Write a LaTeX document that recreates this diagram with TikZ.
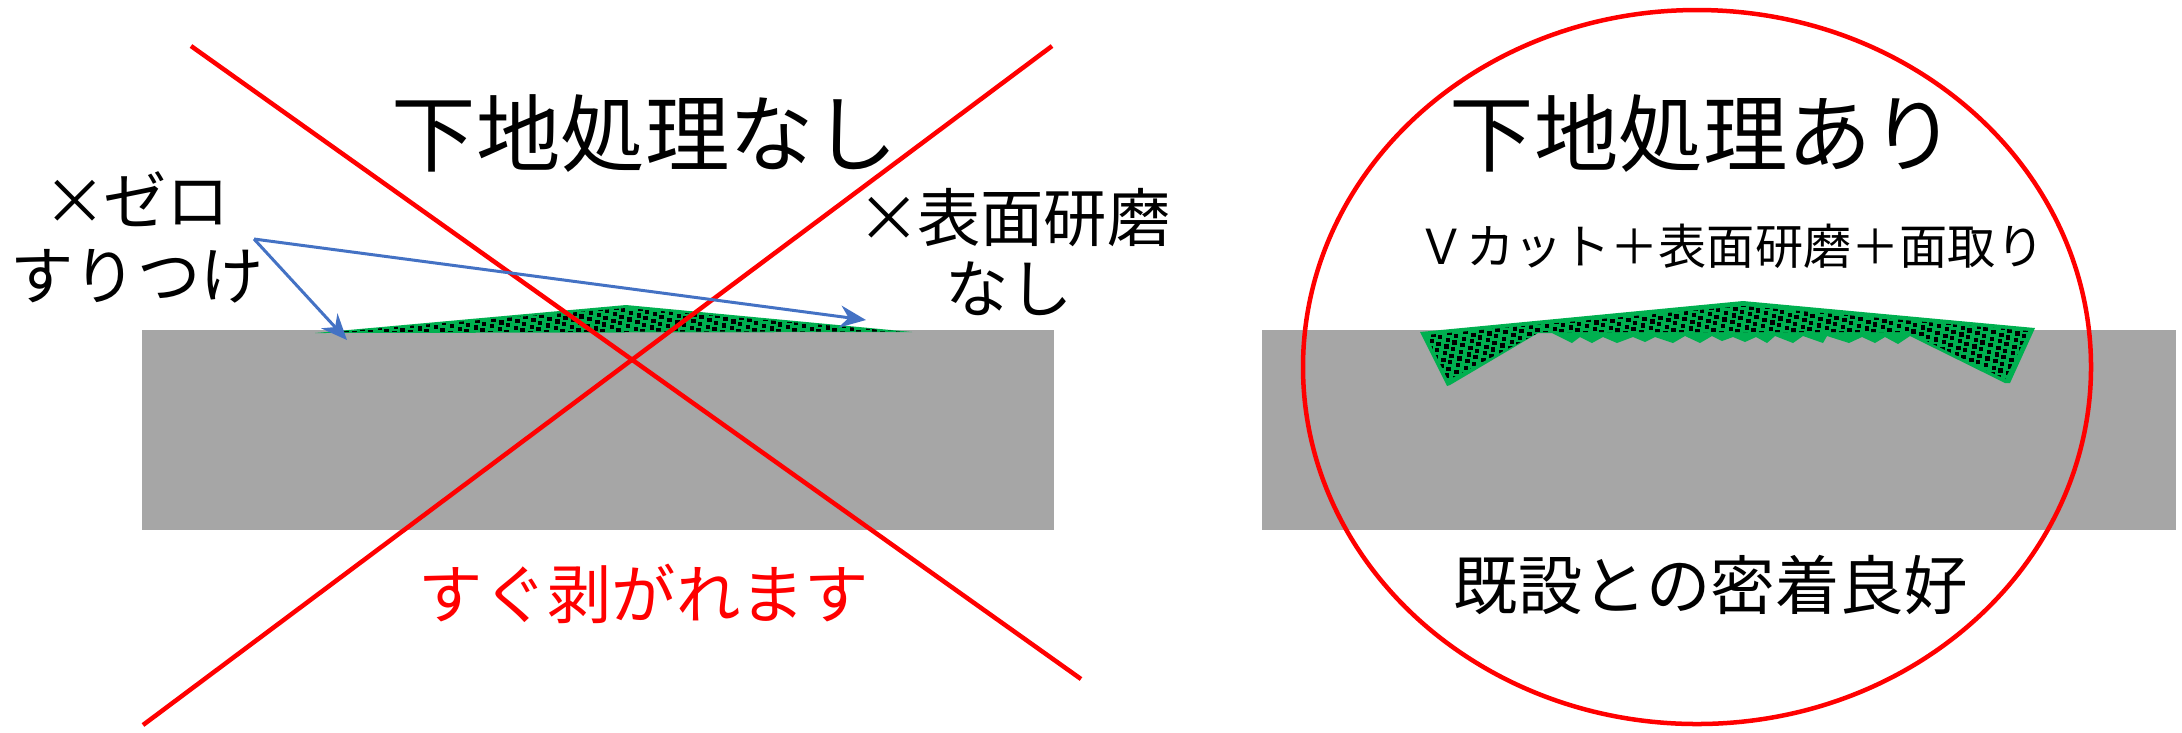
\documentclass[tikz,border=0pt]{standalone}
\usepackage{fontspec}
\setmainfont{Noto Sans CJK JP}
\usetikzlibrary{arrows.meta}
\definecolor{slab}{HTML}{A6A6A6}
\definecolor{patch}{HTML}{00B050}
\definecolor{leader}{HTML}{4472C4}
\tikzset{
  x=0.01cm, y=-0.01cm,
  slabrect/.style={fill=slab, draw=none},
  crossline/.style={draw=red, line width=0.045cm},
  leaderline/.style={draw=leader, line width=0.03cm, -{Stealth[length=0.26cm,width=0.22cm]}},
  label/.style={inner sep=0pt, anchor=center, align=center},
  titletext/.style={label, font=\fontsize{24}{28}\selectfont},
  notetext/.style={label, font=\fontsize{18}{28}\selectfont},
  smalltext/.style={label, font=\fontsize{13.7}{18}\selectfont},
  bigtext/.style={label, font=\fontsize{18.3}{22}\selectfont},
}
% Slanted lattice of small black squares over the current clip region:
% x start, last column, y start, last row
\newcommand{\specks}[4]{%
  \foreach \col in {0,...,#2}{%
    \pgfmathsetmacro{\phase}{mod(\col*2.7,6.6)}%
    \foreach \row in {0,...,#4}{%
      \pgfmathsetmacro{\xx}{#1+\col*8-\row*1.5}%
      \pgfmathsetmacro{\yy}{#3+\row*6.6+\phase}%
      \fill[black] (\xx-2.1,\yy-2.1) rectangle (\xx+2.1,\yy+2.1);
    }%
  }%
}
\begin{document}
\begin{tikzpicture}
\useasboundingbox (0,0) rectangle (2182,732);

% Left slab and thin repair layer
\node[slabrect, minimum width=9.12cm, minimum height=2cm, inner sep=0pt] (slabL) at (598,430) {};
\fill[patch] (315,333) -- (626,305) -- (912,332) -- cycle;
\begin{scope}
  \clip (335,332) -- (626,308) -- (900,331.5) -- cycle;
  \specks{330}{74}{296}{5}
\end{scope}

% Right slab and V-cut repair layer
\node[slabrect, minimum width=9.13cm, minimum height=2cm, inner sep=0pt] (slabR) at (1719,430) {};
\fill[patch] (1420,332) -- (1743,301) -- (2035,328) -- (2010,383) -- (2005,383) -- (1910,336)
  -- (1898,344) -- (1885,337) -- (1875,343) -- (1862,337) -- (1849,343) -- (1827,336) -- (1823,343)
  -- (1803,336) -- (1793,343) -- (1775,336) -- (1767,343) -- (1756,337) -- (1745,342) -- (1733,337)
  -- (1722,341) -- (1712,336) -- (1700,343) -- (1685,336) -- (1673,343) -- (1655,337) -- (1645,342)
  -- (1633,337) -- (1617,343) -- (1603,337) -- (1592,343) -- (1580,337) -- (1572,343) -- (1552,333)
  -- (1538,333) -- (1450,385) -- (1447,386) -- cycle;
\begin{scope}
  \clip (1426,335) -- (1743,306) -- (2029,331) -- (2005,379) -- (1908,332) -- (1540,332) -- (1448,380) -- cycle;
  \specks{1425}{78}{296}{14}
\end{scope}

% Crossing-out lines
\coordinate (crossA1) at (191,46);
\coordinate (crossA2) at (1081,679);
\coordinate (crossB1) at (1052,46);
\coordinate (crossB2) at (143,725);
\draw[crossline] (crossA1) -- (crossA2);
\draw[crossline] (crossB1) -- (crossB2);

% Approval ring
\draw[crossline] (1697,367) ellipse [x radius=394, y radius=357];

% Leaders
\coordinate (leadFrom) at (254,239);
\coordinate (leadEdge) at (347,340);
\coordinate (leadPeak) at (866,320);
\draw[leaderline] (leadFrom) -- (leadEdge);
\draw[leaderline] (leadFrom) -- (leadPeak);

% Labels
\node[titletext] (titleL) at (645,133) {下地処理なし};
\node[titletext] (titleR) at (1703,133) {下地処理あり};
\node[notetext] (noteA1) at (137,199) {×\hspace{-1pt}ゼロ};
\node[notetext] (noteA2) at (137,276) {すりつけ};
\node[notetext] (noteB1) at (1014,218) {×\hspace{-1pt}表面研磨};
\node[notetext] (noteB2) at (1009,289) {なし};
\node[smalltext] (steps) at (1731,246) {Ｖカット＋表面研磨＋面取り};
\node[bigtext, text=red] (warn) at (644,594) {すぐ剥がれます};
\node[bigtext] (good) at (1711,585) {既設との密着良好};
\end{tikzpicture}
\end{document}
